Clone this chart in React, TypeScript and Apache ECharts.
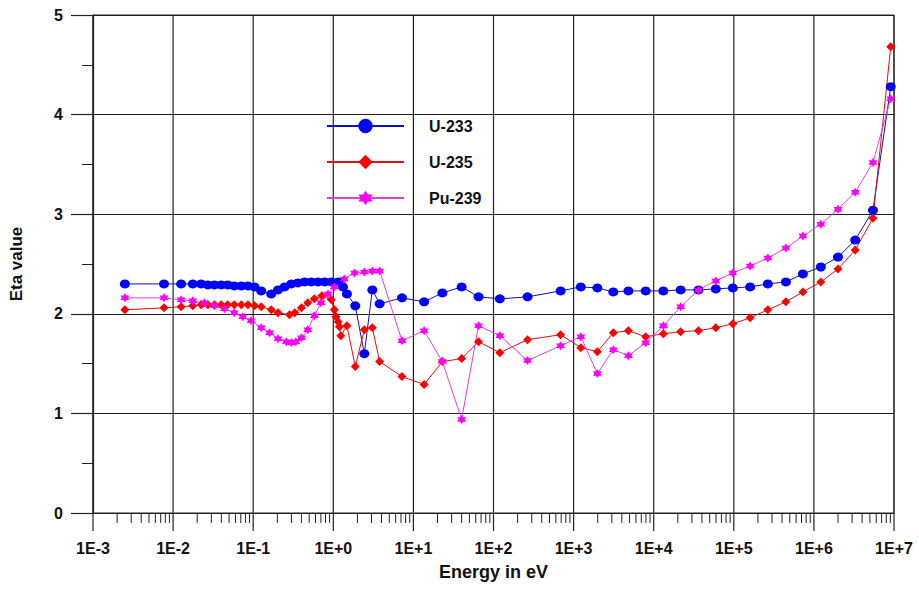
import React, { useEffect, useRef } from "react";
import * as echarts from "echarts";

const seriesNames = ["U-233", "U-235", "Pu-239"];

const u233Energy = [0.0025, 0.0077, 0.0126, 0.0176, 0.0224, 0.0272, 0.0328, 0.04, 0.048, 0.058, 0.071, 0.086, 0.104, 0.126, 0.168, 0.204, 0.246, 0.299, 0.362, 0.438, 0.531, 0.644, 0.778, 0.944, 1.15, 1.32, 1.48, 1.88, 2.44, 3.07, 3.79, 7.2, 13.6, 23, 40, 65, 120, 266, 688, 1230, 1980, 3130, 4830, 7940, 13200, 21700, 36200, 59600, 97200, 160000, 266000, 447000, 729000, 1.22e6, 2.0e6, 3.28e6, 5.46e6, 9.1e6];
const u233Eta = [2.30, 2.30, 2.30, 2.30, 2.30, 2.29, 2.29, 2.29, 2.29, 2.28, 2.28, 2.28, 2.27, 2.23, 2.20, 2.24, 2.27, 2.30, 2.31, 2.32, 2.32, 2.32, 2.32, 2.32, 2.32, 2.27, 2.20, 2.08, 1.60, 2.24, 2.10, 2.16, 2.12, 2.21, 2.27, 2.17, 2.15, 2.17, 2.23, 2.27, 2.26, 2.22, 2.23, 2.23, 2.23, 2.24, 2.24, 2.25, 2.26, 2.27, 2.30, 2.32, 2.40, 2.47, 2.57, 2.74, 3.04, 4.28];

const u235Energy = [0.0025, 0.0077, 0.0126, 0.0176, 0.0224, 0.0272, 0.0328, 0.04, 0.048, 0.058, 0.071, 0.086, 0.104, 0.126, 0.168, 0.204, 0.284, 0.33, 0.40, 0.48, 0.58, 0.72, 0.944, 1.03, 1.08, 1.15, 1.19, 1.24, 1.48, 1.88, 2.44, 3.07, 3.79, 7.2, 13.6, 23, 40, 65, 120, 266, 688, 1230, 1980, 3130, 4830, 7940, 13200, 21700, 36200, 59600, 97200, 160000, 266000, 447000, 729000, 1.22e6, 2.0e6, 3.28e6, 5.46e6, 9.1e6];
const u235Eta = [2.04, 2.06, 2.07, 2.08, 2.09, 2.09, 2.09, 2.09, 2.09, 2.09, 2.09, 2.09, 2.08, 2.07, 2.04, 2.01, 1.99, 2.01, 2.06, 2.11, 2.15, 2.18, 2.14, 2.04, 1.97, 1.92, 1.87, 1.78, 1.88, 1.47, 1.84, 1.86, 1.52, 1.37, 1.29, 1.52, 1.55, 1.72, 1.61, 1.74, 1.79, 1.66, 1.62, 1.81, 1.83, 1.77, 1.80, 1.82, 1.83, 1.86, 1.90, 1.96, 2.04, 2.12, 2.22, 2.32, 2.45, 2.64, 2.96, 4.68];

const pu239Energy = [0.0025, 0.0077, 0.0126, 0.0176, 0.0246, 0.0328, 0.0437, 0.058, 0.074, 0.094, 0.126, 0.16, 0.204, 0.26, 0.30, 0.34, 0.40, 0.48, 0.58, 0.70, 0.86, 1.03, 1.37, 1.84, 2.44, 3.07, 3.79, 7.2, 13.6, 23, 40, 65, 120, 266, 688, 1230, 1980, 3130, 4830, 7940, 13200, 21700, 36200, 59600, 97200, 160000, 266000, 447000, 729000, 1.22e6, 2.0e6, 3.28e6, 5.46e6, 9.1e6];
const pu239Eta = [2.16, 2.16, 2.14, 2.13, 2.11, 2.08, 2.05, 2.01, 1.97, 1.93, 1.86, 1.81, 1.75, 1.72, 1.71, 1.72, 1.76, 1.84, 1.98, 2.11, 2.20, 2.27, 2.35, 2.41, 2.42, 2.43, 2.43, 1.73, 1.83, 1.52, 0.94, 1.88, 1.78, 1.53, 1.68, 1.77, 1.40, 1.64, 1.58, 1.71, 1.88, 2.07, 2.24, 2.33, 2.41, 2.48, 2.56, 2.66, 2.78, 2.90, 3.05, 3.22, 3.52, 4.16];

// axis structure: decade tick values shown on the log axis and the minor tick multipliers
const decadeExponents = [-3, -2, -1, 0, 1, 2, 3, 4, 5, 6, 7];
const minorMultipliers = [2, 3, 4, 5, 6, 7, 8, 9];

const FONT = "'Liberation Sans', Arial, sans-serif";
const STAR =
  "path://M0,-10 L2.887,-5 L8.66,-5 L5.774,0 L8.66,5 L2.887,5 L0,10 L-2.887,5 L-8.66,5 L-5.774,0 L-8.66,-5 L-2.887,-5 Z";

const pairs = (xs: number[], ys: number[]) => xs.map((x, i) => [x, ys[i]]);
const decadeLabel = (e: number) => "1E" + (e >= 0 ? "+" : "-") + Math.abs(e);

export default function App() {
  const ref = useRef<HTMLDivElement>(null);
  useEffect(() => {
    if (!ref.current) return;
    const chart = echarts.init(ref.current, undefined, { renderer: "svg" });
    const minorTicks: number[][] = [];
    decadeExponents.slice(0, -1).forEach((e) =>
      minorMultipliers.forEach((m) => minorTicks.push([m * Math.pow(10, e), 0]))
    );
    const majorTicks = decadeExponents.map((e) => [Math.pow(10, e), 0, e]);
    const lineCol = "#222";
    chart.setOption({
      animation: false,
      backgroundColor: "#fff",
      grid: {
        left: 92,
        right: 25,
        top: 15,
        bottom: 78,
        show: true,
        borderColor: lineCol,
        borderWidth: 1,
        backgroundColor: "transparent",
      },
      legend: {
        data: seriesNames,
        orient: "vertical",
        left: 326,
        top: 118,
        padding: 0,
        itemWidth: 77,
        itemHeight: 18,
        itemGap: 20,
        textStyle: {
          fontFamily: FONT,
          fontWeight: "bold",
          fontSize: 16,
          color: "#111",
          padding: [0, 0, 0, 20],
        },
      },
      xAxis: {
        type: "log",
        logBase: 10,
        min: 0.001,
        max: 1e7,
        name: "Energy in eV",
        nameLocation: "middle",
        nameGap: 50,
        nameTextStyle: { fontFamily: FONT, fontWeight: "bold", fontSize: 18, color: "#111" },
        axisLine: { show: true, lineStyle: { color: lineCol, width: 1.2 } },
        axisTick: { show: false },
        axisLabel: { show: false },
        splitLine: { show: false },
        minorTick: { show: false },
      },
      yAxis: {
        type: "value",
        min: 0,
        max: 5,
        interval: 1,
        name: "Eta value",
        nameLocation: "middle",
        nameGap: 68,
        nameTextStyle: { fontFamily: FONT, fontWeight: "bold", fontSize: 17, color: "#111" },
        axisLine: { show: true, lineStyle: { color: lineCol, width: 1.2 } },
        axisTick: { show: true, length: 22, lineStyle: { color: lineCol, width: 1.2 } },
        minorTick: { show: true, splitNumber: 2, length: 11, lineStyle: { color: lineCol, width: 1 } },
        axisLabel: { fontFamily: FONT, fontWeight: "bold", fontSize: 16, color: "#111", margin: 30 },
        splitLine: { show: true, lineStyle: { color: lineCol, width: 1.2 } },
      },
      series: [
        {
          name: "decades",
          type: "custom",
          silent: true,
          clip: false,
          z: 1,
          data: majorTicks,
          renderItem: (params: any, api: any) => {
            const p = api.coord([api.value(0), 0]);
            const top = api.coord([api.value(0), 5]);
            return {
              type: "group",
              children: [
                {
                  type: "line",
                  shape: { x1: p[0], y1: top[1], x2: p[0], y2: p[1] + 18 },
                  style: { stroke: lineCol, lineWidth: 1.2 },
                },
                {
                  type: "text",
                  x: p[0],
                  y: p[1] + 35,
                  style: {
                    text: decadeLabel(api.value(2)),
                    fontFamily: FONT,
                    fontWeight: "bold",
                    fontSize: 16,
                    fill: "#111",
                    align: "center",
                    verticalAlign: "middle",
                  },
                },
              ],
            };
          },
        },
        {
          name: "minorTicks",
          type: "custom",
          silent: true,
          clip: false,
          z: 1,
          data: minorTicks,
          renderItem: (params: any, api: any) => {
            const p = api.coord([api.value(0), 0]);
            return {
              type: "line",
              shape: { x1: p[0], y1: p[1], x2: p[0], y2: p[1] + 10 },
              style: { stroke: lineCol, lineWidth: 1 },
            };
          },
        },
        {
          name: "U-233",
          type: "line",
          z: 3,
          data: pairs(u233Energy, u233Eta),
          symbol: "circle",
          symbolSize: [10, 9],
          itemStyle: { color: "#0000ff" },
          lineStyle: { color: "#1010c0", width: 1 },
        },
        {
          name: "U-235",
          type: "line",
          z: 3,
          data: pairs(u235Energy, u235Eta),
          symbol: "diamond",
          symbolSize: 9,
          itemStyle: { color: "#ff0000" },
          lineStyle: { color: "#e01010", width: 1 },
        },
        {
          name: "Pu-239",
          type: "line",
          z: 3,
          data: pairs(pu239Energy, pu239Eta),
          symbol: STAR,
          symbolSize: 9,
          itemStyle: { color: "#ff00ff" },
          lineStyle: { color: "#e040e0", width: 1 },
        },
      ],
    });
    return () => chart.dispose();
  }, []);
  return (
    <div
      ref={ref}
      style={{ position: "fixed", left: 0, top: 0, width: 919, height: 591, background: "#fff" }}
    />
  );
}
